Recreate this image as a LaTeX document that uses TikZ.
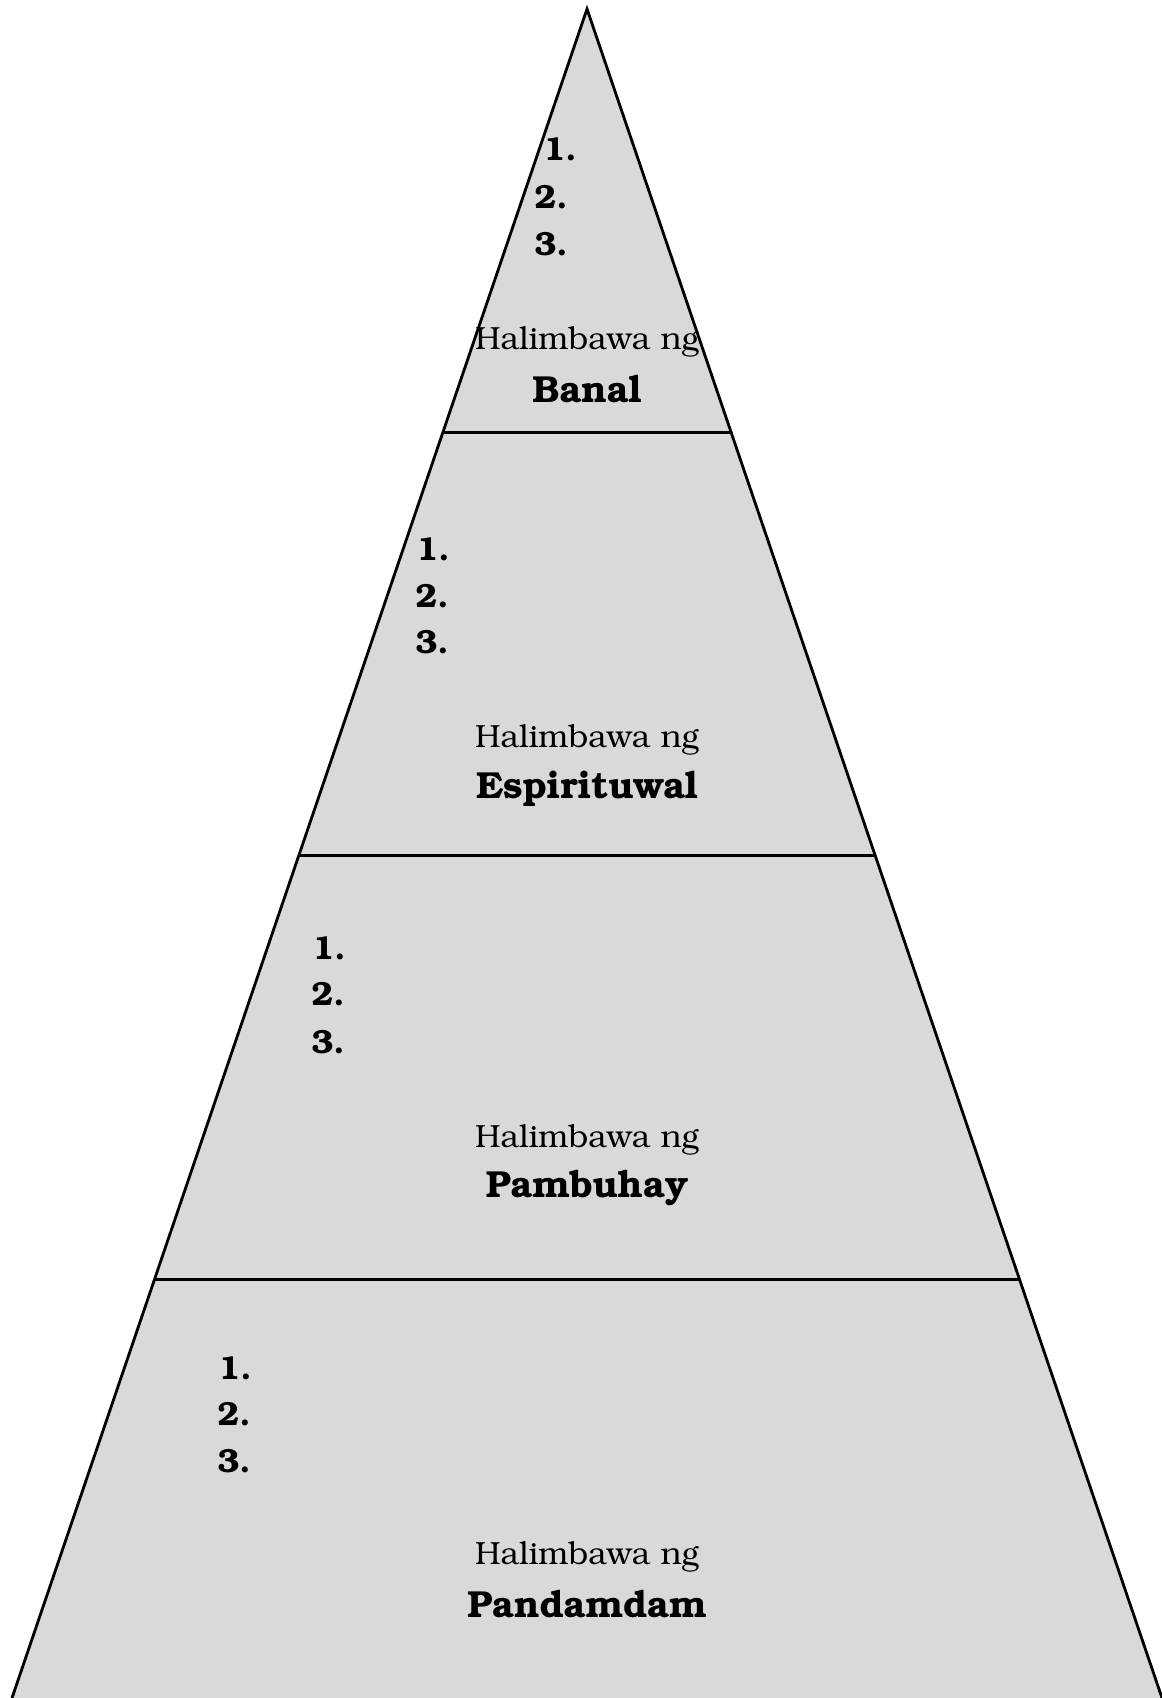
\documentclass[tikz,border=0pt]{standalone}
\usepackage[T1]{fontenc}
\usepackage{bookman}
\usepackage{xcolor}
\usepackage{tikz}
\usetikzlibrary{calc,positioning}
\definecolor{levelgray}{HTML}{D9D9D9}
\tikzset{
  num/.style={anchor=west,inner sep=0pt,font=\fontsize{9.5}{11}\selectfont\bfseries},
  halim/.style={inner sep=0pt,font=\fontsize{9.1}{11}\selectfont},
  level/.style={inner sep=0pt,font=\fontsize{10.7}{13}\selectfont\bfseries},
}

\begin{document}
\begin{tikzpicture}[x=0.01cm,y=-0.01cm,line width=0.8pt]
      \useasboundingbox (0,0) rectangle (1161,1698);

      \coordinate (apex) at (587,9);
      \coordinate (bl) at (12,1698);
      \coordinate (br) at (1162,1698);
      \fill[levelgray] (apex) -- (bl) -- (br) -- cycle;
      \draw (bl) -- (apex) -- (br);

      \coordinate (l1) at ($(apex)!0.2506!(bl)$);
      \coordinate (r1) at ($(apex)!0.2506!(br)$);
      \coordinate (l2) at ($(apex)!0.5012!(bl)$);
      \coordinate (r2) at ($(apex)!0.5012!(br)$);
      \coordinate (l3) at ($(apex)!0.752!(bl)$);
      \coordinate (r3) at ($(apex)!0.752!(br)$);
      \draw (l1) -- (r1);
      \draw (l2) -- (r2);
      \draw (l3) -- (r3);

      \node[num] at (542,149) (banalone) {1.};
      \node[num] at (533,197) (banaltwo) {2.};
      \node[num] at (533,244) (banalthree) {3.};
      \node[halim] at (587,342) (banalhal) {Halimbawa ng};
      \node[level] at (587,389) (banal) {Banal};

      \node[num] at (415,549) (espone) {1.};
      \node[num] at (414,596) (esptwo) {2.};
      \node[num] at (414,642) (espthree) {3.};
      \node[halim] at (587,740) (esphal) {Halimbawa ng};
      \node[level] at (587,789) (espirituwal) {Espirituwal};

      \node[num] at (311,948) (pamone) {1.};
      \node[num] at (310,994) (pamtwo) {2.};
      \node[num] at (310,1042) (pamthree) {3.};
      \node[halim] at (587,1140) (pamhal) {Halimbawa ng};
      \node[level] at (587,1188) (pambuhay) {Pambuhay};

      \node[num] at (217,1368) (panone) {1.};
      \node[num] at (216,1414) (pantwo) {2.};
      \node[num] at (216,1461) (panthree) {3.};
      \node[halim] at (587,1557) (panhal) {Halimbawa ng};
      \node[level] at (587,1604) (pandamdam) {Pandamdam};
    \end{tikzpicture}
\end{document}
